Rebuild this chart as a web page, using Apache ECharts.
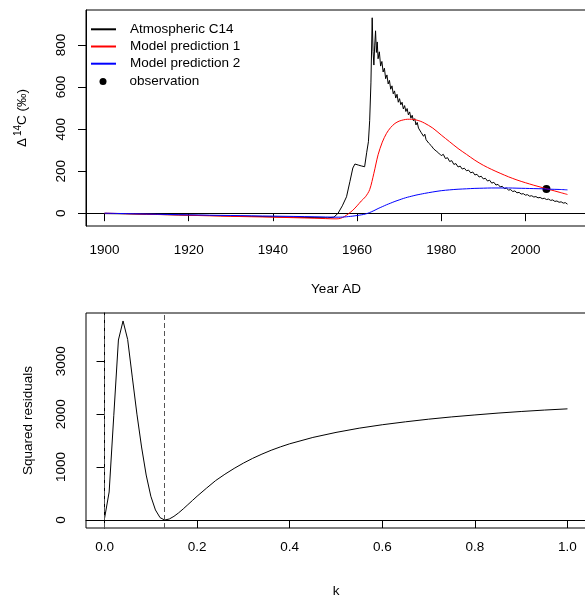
<!DOCTYPE html>
<html>
<head>
<meta charset="utf-8">
<script src="https://cdn.jsdelivr.net/npm/echarts@6.0.0/dist/echarts.min.js"></script>
<style>
  html, body { margin: 0; padding: 0; background: #fff; }
  #chart { width: 585px; height: 596px; }
</style>
</head>
<body>
<div id="chart"></div>
<script>
// atmospheric record (years + delta14C, per mil)
var atmYear = [1900, 1905, 1910, 1915, 1920, 1925, 1930, 1935, 1940, 1945, 1950, 1953, 1954.5, 1955.5, 1956.5, 1957.5, 1958.3, 1959.0, 1959.5, 1960.3, 1961.0, 1961.8, 1962.3, 1962.7, 1963.0, 1963.3, 1963.6, 1963.8, 1964.0, 1964.2, 1964.4, 1964.6, 1964.8, 1965.0, 1965.3, 1965.6, 1965.9, 1966.2, 1966.5, 1966.8, 1967.1, 1967.4, 1967.7, 1968.0, 1968.3, 1968.6, 1968.9, 1969.2, 1969.5, 1969.8, 1970.1, 1970.4, 1970.7, 1971.0, 1971.3, 1971.6, 1971.9, 1972.2, 1972.5, 1972.8, 1973.1, 1973.4, 1973.7, 1974.0, 1974.3, 1974.6, 1974.9, 1975.2, 1975.5, 1975.8, 1976.1, 1976.4, 1976.7, 1977.0, 1977.3, 1977.6, 1977.9, 1978.2, 1978.5, 1978.8, 1979.1, 1979.4, 1979.7, 1980.0, 1980.5, 1981.0, 1981.5, 1982.0, 1982.5, 1983.0, 1983.5, 1984.0, 1984.5, 1985.0, 1985.5, 1986.0, 1986.5, 1987.0, 1987.5, 1988.0, 1988.5, 1989.0, 1989.5, 1990.0, 1990.5, 1991.0, 1991.5, 1992.0, 1992.5, 1993.0, 1993.5, 1994.0, 1994.5, 1995.0, 1995.5, 1996.0, 1996.5, 1997.0, 1997.5, 1998.0, 1998.5, 1999.0, 1999.5, 2000.0, 2000.5, 2001.0, 2001.5, 2002.0, 2002.5, 2003.0, 2003.5, 2004.0, 2004.5, 2005.0, 2005.5, 2006.0, 2006.5, 2007.0, 2007.5, 2008.0, 2008.5, 2009.0, 2009.5, 2010.0];
var atmD14C = [-2, -3, -5, -7, -9, -11, -13, -15, -17, -19, -21, -22, -19, 0, 35, 78, 150, 215, 234, 229, 225, 221, 290, 340, 440, 620, 930, 770, 705, 800, 868, 765, 815, 735, 768, 700, 722, 672, 690, 640, 658, 615, 632, 590, 606, 568, 582, 548, 566, 528, 545, 516, 528, 496, 512, 484, 498, 468, 482, 452, 466, 440, 450, 420, 432, 405, 412, 385, 392, 366, 376, 350, 358, 334, 342, 322, 328, 306, 314, 296, 300, 286, 292, 274, 280, 260, 264, 246, 250, 232, 236, 220, 224, 210, 214, 202, 205, 192, 196, 182, 185, 172, 176, 163, 166, 153, 157, 143, 147, 134, 137, 125, 128, 117, 119, 110, 112, 103, 106, 97, 99, 91, 93, 86, 88, 81, 83, 77, 79, 73, 75, 69, 71, 65, 67, 61, 63, 56, 58, 52, 54, 48, 50, 43];

// model predictions
var modelYear = [1900, 1910, 1920, 1930, 1940, 1950, 1955, 1956, 1957, 1958, 1959, 1960, 1961, 1962, 1963, 1964, 1965, 1966, 1967, 1968, 1969, 1970, 1971, 1972, 1973, 1974, 1975, 1976, 1978, 1980, 1982, 1984, 1986, 1988, 1990, 1992, 1994, 1996, 1998, 2000, 2002, 2004, 2006, 2008, 2010];
var pred1 = [0, -5, -10, -15, -19, -24, -27, -25, -16, -2, 14, 35, 58, 78, 112, 190, 278, 338, 380, 408, 427, 438, 444, 447, 447, 444, 438, 429, 405, 372, 340, 308, 280, 252, 228, 208, 190, 173, 158, 145, 133, 122, 111, 100, 89];
var pred2 = [0, -4, -8, -11, -14, -17, -19, -19, -18, -16, -14, -11, -8, -4, 3, 12, 22, 31, 40, 48, 56, 63, 70, 76, 81, 86, 90, 94, 101, 107, 111, 114, 116, 118, 119, 120, 120, 120, 119, 118, 117, 116, 114, 113, 111];

var obsYear = [2005];
var obsD14C = [115];

// squared residuals vs decomposition rate k
var kVal = [0, 0.01, 0.02, 0.03, 0.04, 0.05, 0.06, 0.07, 0.08, 0.09, 0.10, 0.11, 0.12, 0.13, 0.14, 0.15, 0.16, 0.17, 0.18, 0.19, 0.20, 0.22, 0.24, 0.26, 0.28, 0.30, 0.32, 0.34, 0.36, 0.38, 0.40, 0.45, 0.50, 0.55, 0.60, 0.65, 0.70, 0.75, 0.80, 0.85, 0.90, 0.95, 1.00];
var sqRes = [30, 530, 1970, 3400, 3760, 3410, 2700, 2000, 1380, 850, 450, 190, 45, 0, 20, 70, 135, 210, 290, 370, 450, 600, 745, 865, 975, 1075, 1165, 1245, 1318, 1382, 1440, 1560, 1655, 1735, 1800, 1855, 1905, 1948, 1985, 2020, 2050, 2077, 2100];
var kLines = [0, 0.13];

var yearTicks = [1900, 1920, 1940, 1960, 1980, 2000];
var d14cTicks = [0, 200, 400, 600, 800];
var kTicks = [0, 0.2, 0.4, 0.6, 0.8, 1.0];
var resTicks = [0, 1000, 2000, 3000];

function pairs(xs, ys) {
    var out = [];
    for (var i = 0; i < xs.length; i++) {
        out.push([xs[i], ys[i]]);
    }
    return out;
}

var font = 'Liberation Sans, Arial, Helvetica, sans-serif';
var black = '#000';

function xAx(grid, min, max, ticks, name, margin, fmt) {
    return {
        type: 'value', gridIndex: grid, min: min, max: max,
        name: name, nameLocation: 'middle', nameGap: 56,
        nameTextStyle: { fontFamily: font, fontSize: 13.5, color: black },
        axisLine: { show: true, lineStyle: { color: black, width: 1 } },
        axisTick: { show: true, inside: false, length: 8, customValues: ticks, lineStyle: { color: black } },
        axisLabel: { customValues: ticks, margin: margin, fontFamily: font, fontSize: 13.5, color: black, formatter: fmt },
        splitLine: { show: false }
    };
}

function yAx(grid, min, max, ticks, name, gap) {
    return {
        type: 'value', gridIndex: grid, min: min, max: max,
        name: name, nameLocation: 'middle', nameGap: gap, nameRotate: 90,
        nameTextStyle: {
            fontFamily: font, fontSize: 13.5, color: black,
            rich: { sup: { fontFamily: font, fontSize: 10, color: black, padding: [0, 0, 8, 2] } }
        },
        axisLine: { show: true, lineStyle: { color: black, width: 1 } },
        axisTick: { show: true, inside: false, length: 8, customValues: ticks, lineStyle: { color: black } },
        axisLabel: {
            customValues: ticks, rotate: 90, margin: 18, fontFamily: font, fontSize: 13.5, color: black,
            formatter: function (v) { return String(v); }
        },
        splitLine: { show: false }
    };
}

var chart = echarts.init(document.getElementById('chart'), null, { renderer: 'canvas' });

chart.setOption({
    animation: false,
    backgroundColor: '#fff',
    textStyle: { fontFamily: font },
    grid: [
        { left: 86, top: 10, width: 500, height: 216, show: true, borderColor: black, borderWidth: 1, outerBoundsMode: 'none' },
        { left: 86, top: 313, width: 500, height: 215, show: true, borderColor: black, borderWidth: 1, outerBoundsMode: 'none' }
    ],
    legend: [
        {
            data: ['Atmospheric C14', 'Model prediction 1', 'Model prediction 2'],
            orient: 'vertical', left: 90, top: 22.3, padding: 0,
            itemWidth: 25, itemHeight: 14, itemGap: 3.2, selectedMode: false,
            itemStyle: { opacity: 0 },
            textStyle: { fontFamily: font, fontSize: 13.5, color: black, lineHeight: 14, padding: [0, 0, 0, 9] }
        },
        {
            data: ['observation'],
            orient: 'vertical', left: 99.5, top: 74.5, padding: 0,
            itemWidth: 25, itemHeight: 7, selectedMode: false,
            itemStyle: { opacity: 1 },
            textStyle: { fontFamily: font, fontSize: 13.5, color: black, lineHeight: 14, padding: [0, 0, 0, 9] }
        }
    ],
    xAxis: [
        xAx(0, 1895.6, 2014.4, yearTicks, 'Year AD', 17, function (v) { return String(v); }),
        xAx(1, -0.04, 1.04, kTicks, 'k', 12, function (v) { return v.toFixed(1); })
    ],
    yAxis: [
        yAx(0, -61, 967, d14cTicks, 'Δ{sup|14}C (‰)', 55),
        yAx(1, -150.4, 3910.4, resTicks, 'Squared residuals', 51)
    ],
    series: [
        {
            name: 'Atmospheric C14', type: 'line', xAxisIndex: 0, yAxisIndex: 0,
            data: pairs(atmYear, atmD14C), symbol: 'none', showSymbol: false,
            lineStyle: { color: black, width: 1 }, itemStyle: { color: black }
        },
        {
            name: 'Model prediction 1', type: 'line', xAxisIndex: 0, yAxisIndex: 0,
            data: pairs(modelYear, pred1), symbol: 'none', showSymbol: false, smooth: 0.3,
            lineStyle: { color: '#ff0000', width: 1 }, itemStyle: { color: '#ff0000' }
        },
        {
            name: 'Model prediction 2', type: 'line', xAxisIndex: 0, yAxisIndex: 0,
            data: pairs(modelYear, pred2), symbol: 'none', showSymbol: false, smooth: 0.3,
            lineStyle: { color: '#0000ff', width: 1 }, itemStyle: { color: '#0000ff' }
        },
        {
            name: 'observation', type: 'scatter', xAxisIndex: 0, yAxisIndex: 0,
            data: pairs(obsYear, obsD14C), symbol: 'circle', symbolSize: 8,
            itemStyle: { color: black, opacity: 1 }
        },
        {
            name: 'residuals', type: 'line', xAxisIndex: 1, yAxisIndex: 1,
            data: pairs(kVal, sqRes), symbol: 'none', showSymbol: false,
            lineStyle: { color: black, width: 1 },
            markLine: {
                silent: true, symbol: ['none', 'none'], label: { show: false },
                lineStyle: { color: '#555', width: 1, type: [5, 3] },
                data: kLines.map(function (k) { return { xAxis: k }; })
            }
        }
    ]
});
</script>
</body>
</html>
